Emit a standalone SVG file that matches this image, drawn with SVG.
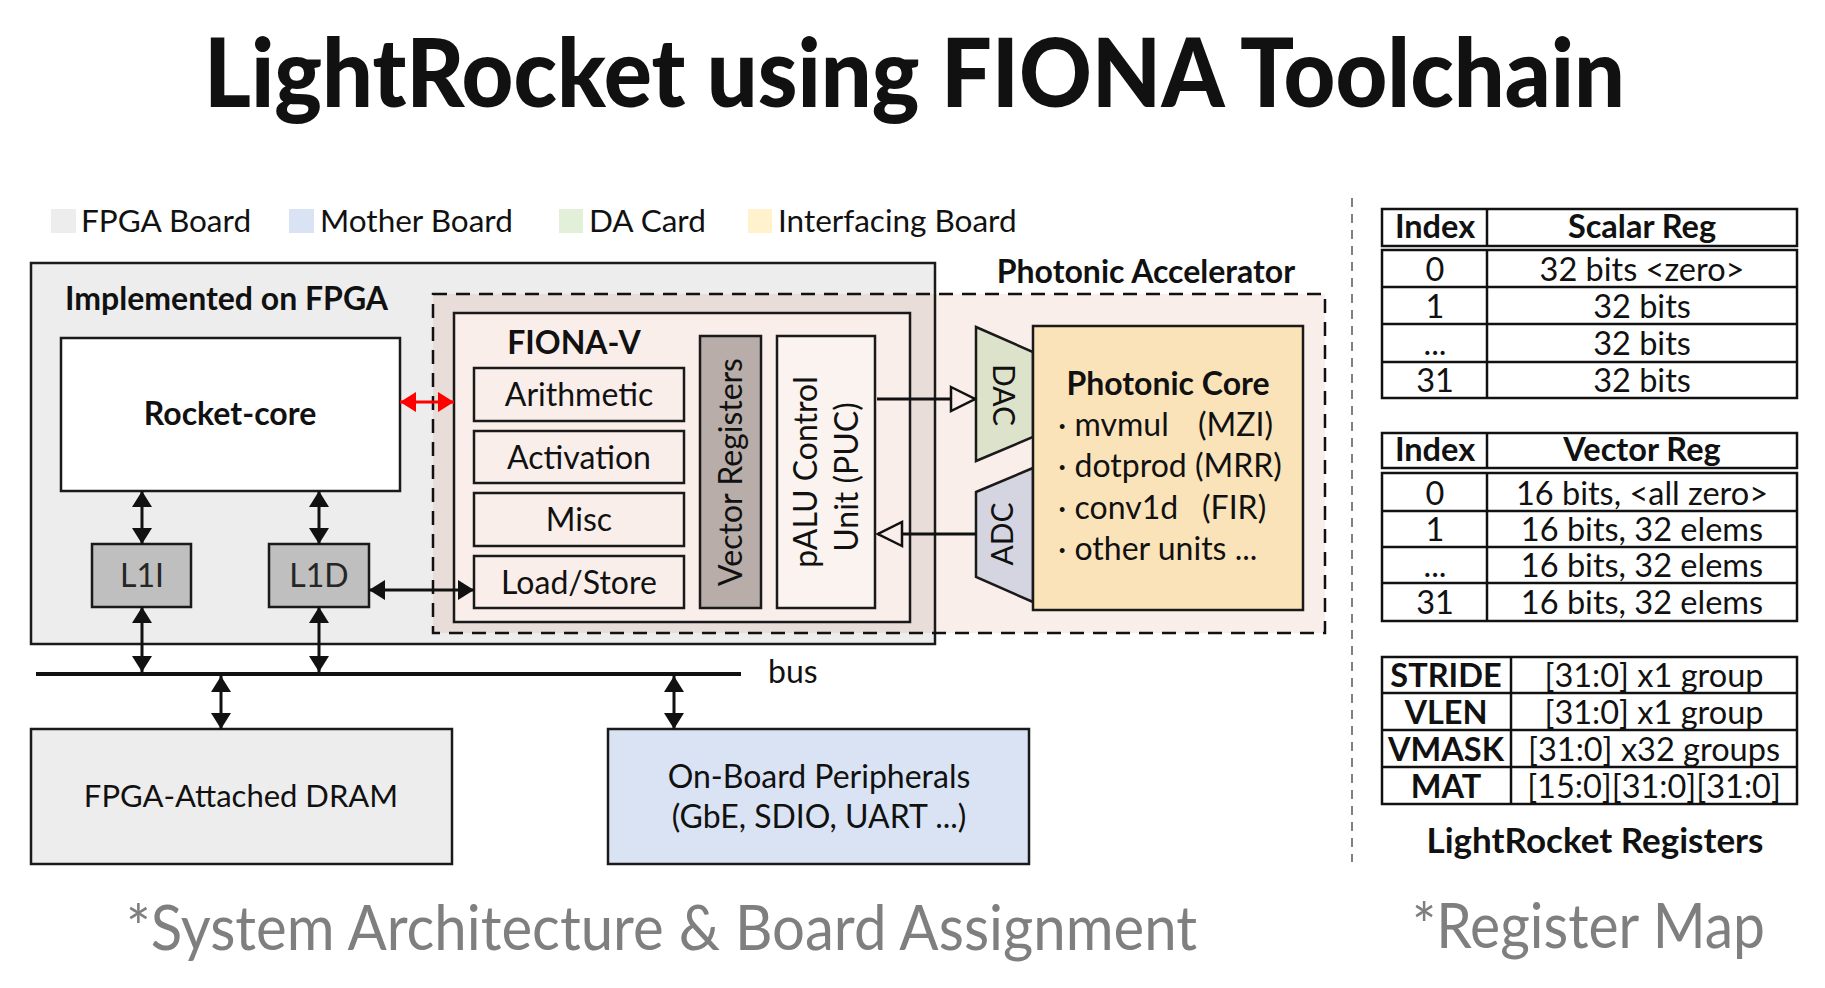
<svg xmlns="http://www.w3.org/2000/svg" width="1825" height="988" viewBox="0 0 1825 988">
<style>
text{font-family:Lato,"Open Sans","Liberation Sans",sans-serif;fill:#111}
.b{font-weight:bold}
.t30{font-size:32px}
.lg{font-size:31.5px}
.tb{font-size:32.5px}
.m{text-anchor:middle}
.box{stroke:#1a1a1a;stroke-width:2.5}
.conn{stroke:#111;stroke-width:3;fill:none}
.cap{font-size:62px;fill:#7f7f7f}
.tbl{fill:#fff;stroke:#111;stroke-width:2.5}
</style>
<defs>
<marker id="ah" viewBox="0 0 16 20" refX="16" refY="10" markerWidth="16" markerHeight="20" markerUnits="userSpaceOnUse" orient="auto-start-reverse">
<path d="M0,0 L16,10 L0,20 Z" fill="#111"/>
</marker>
<marker id="ahr" viewBox="0 0 16 20" refX="16" refY="10" markerWidth="16" markerHeight="20" markerUnits="userSpaceOnUse" orient="auto-start-reverse">
<path d="M0,0 L16,10 L0,20 Z" fill="#ff0000"/>
</marker>
<marker id="ho" viewBox="-2 -2 28 28" refX="24" refY="12" markerWidth="28" markerHeight="28" markerUnits="userSpaceOnUse" orient="auto">
<path d="M0,0 L24,12 L0,24 Z" fill="#f9eeea" stroke="#111" stroke-width="2.5"/>
</marker>
</defs>
<rect width="1825" height="988" fill="#fff"/>

<text id="title" class="b" x="204" y="107" font-size="96" textLength="1421" lengthAdjust="spacingAndGlyphs" style="font-weight:900">LightRocket using FIONA Toolchain</text>

<g id="legend">
<rect x="51" y="209" width="25" height="24" fill="#ededed"/>
<text class="lg" x="81" y="232">FPGA Board</text>
<rect x="289" y="209" width="25" height="24" fill="#dae3f3"/>
<text class="lg" x="320" y="232">Mother Board</text>
<rect x="559" y="209" width="24" height="24" fill="#e2f0d9"/>
<text class="lg" x="589" y="232">DA Card</text>
<rect x="748" y="209" width="24" height="24" fill="#fff2cc"/>
<text class="lg" x="778" y="232">Interfacing Board</text>
</g>

<g id="fpga">
<rect x="31" y="263" width="904" height="381" fill="#ededed"/>
</g>
<g id="photonic-accelerator">
<rect x="433" y="294" width="892" height="339" fill="#f9eeea"/>
<rect x="433" y="294" width="502" height="339" fill="#e8ddd8"/>
</g>
<rect x="31" y="263" width="904" height="381" fill="none" class="box"/>
<rect x="433" y="294" width="892" height="339" fill="none" stroke="#111" stroke-width="2.5" stroke-dasharray="14,9"/>
<text class="b t30" x="65" y="310">Implemented on FPGA</text>
<text class="b t30 m" x="1146" y="283">Photonic Accelerator</text>

<g id="rocket-core">
<rect x="61" y="338" width="339" height="153" fill="#fff" class="box"/>
<text class="b t30 m" x="230" y="425">Rocket-core</text>
</g>
<g id="l1i">
<rect x="92" y="544" width="99" height="63" fill="#bfbfbf" class="box"/>
<text class="t30 m" x="142" y="587" style="fill:#262626">L1I</text>
</g>
<g id="l1d">
<rect x="269" y="544" width="100" height="63" fill="#bfbfbf" class="box"/>
<text class="t30 m" x="319" y="587" style="fill:#262626">L1D</text>
</g>

<g id="fiona-v">
<rect x="454" y="313" width="456" height="309" fill="#f9eeea" class="box"/>
<text class="b t30 m" x="574" y="354">FIONA-V</text>
</g>
<g id="arithmetic">
<rect x="474" y="368" width="210" height="53" fill="#f9eeea" class="box"/>
<text class="t30 m" x="579" y="406">Arithmetic</text>
</g>
<g id="activation">
<rect x="474" y="431" width="210" height="52" fill="#f9eeea" class="box"/>
<text class="t30 m" x="579" y="469">Activation</text>
</g>
<g id="misc">
<rect x="474" y="493" width="210" height="53" fill="#f9eeea" class="box"/>
<text class="t30 m" x="579" y="531">Misc</text>
</g>
<g id="load-store">
<rect x="474" y="556" width="210" height="52" fill="#f9eeea" class="box"/>
<text class="t30 m" x="579" y="594">Load/Store</text>
</g>
<g id="vector-registers">
<rect x="700" y="336" width="61" height="272" fill="#b8ada8" class="box"/>
<text class="t30 m" transform="translate(742,472) rotate(-90)">Vector Registers</text>
</g>
<g id="puc">
<rect x="777" y="336" width="98" height="272" fill="#fbf3ef" class="box"/>
<text class="t30 m" transform="translate(817,472) rotate(-90)">pALU Control</text>
<text class="t30 m" transform="translate(858,477) rotate(-90)">Unit (PUC)</text>
</g>
<g id="dac">
<polygon points="976,327 1033,352 1033,437 976,461" fill="#dde3cb" class="box"/>
<text class="m" font-size="30" transform="translate(993,395) rotate(90)">DAC</text>
</g>
<g id="adc">
<polygon points="976,492 1033,468 1033,602 976,577" fill="#d5d5e2" class="box"/>
<text class="m" font-size="30" transform="translate(1013,534) rotate(-90)">ADC</text>
</g>
<g id="photonic-core">
<rect x="1033" y="326" width="270" height="284" fill="#fbe3b9" class="box"/>
<text class="b t30 m" x="1168" y="395">Photonic Core</text>
<text class="t30" x="1058" y="436">· mvmul<tspan x="1198">(MZI)</tspan></text>
<text class="t30" x="1058" y="477">· dotprod (MRR)</text>
<text class="t30" x="1058" y="519">· conv1d<tspan x="1202">(FIR)</tspan></text>
<text class="t30" x="1058" y="560">· other units ...</text>
</g>

<g id="dram">
<rect x="31" y="729" width="421" height="135" fill="#ededed" class="box"/>
<text class="m" font-size="31" x="241" y="807">FPGA-Attached DRAM</text>
</g>
<g id="peripherals">
<rect x="608" y="729" width="421" height="135" fill="#dae3f3" class="box"/>
<text class="t30 m" x="819" y="788">On-Board Peripherals</text>
<text class="t30 m" x="819" y="828">(GbE, SDIO, UART ...)</text>
</g>

<g id="connectors">
<line x1="36" y1="674" x2="741" y2="674" stroke="#111" stroke-width="4"/>
<line class="conn" x1="142" y1="491" x2="142" y2="544" marker-start="url(#ah)" marker-end="url(#ah)"/>
<line class="conn" x1="319" y1="491" x2="319" y2="544" marker-start="url(#ah)" marker-end="url(#ah)"/>
<line class="conn" x1="142" y1="607" x2="142" y2="672" marker-start="url(#ah)" marker-end="url(#ah)"/>
<line class="conn" x1="319" y1="607" x2="319" y2="672" marker-start="url(#ah)" marker-end="url(#ah)"/>
<line class="conn" x1="221" y1="676" x2="221" y2="729" marker-start="url(#ah)" marker-end="url(#ah)"/>
<line class="conn" x1="674" y1="676" x2="674" y2="729" marker-start="url(#ah)" marker-end="url(#ah)"/>
<line class="conn" x1="369" y1="590" x2="474" y2="590" marker-start="url(#ah)" marker-end="url(#ah)"/>
<line x1="400" y1="402" x2="454" y2="402" stroke="#ff0000" stroke-width="3" marker-start="url(#ahr)" marker-end="url(#ahr)"/>
<line class="conn" x1="877" y1="399" x2="975" y2="399" marker-end="url(#ho)"/>
<line class="conn" x1="976" y1="534" x2="878" y2="534" marker-end="url(#ho)"/>
</g>
<text class="t30" x="768" y="683">bus</text>

<line x1="1352" y1="198" x2="1352" y2="862" stroke="#808080" stroke-width="2" stroke-dasharray="9,7"/>

<g id="scalar-table">
<rect class="tbl" x="1382" y="209" width="415" height="37"/>
<line class="tbl" x1="1487" y1="209" x2="1487" y2="246"/>
<rect class="tbl" x="1382" y="250" width="415" height="148"/>
<line class="tbl" x1="1487" y1="250" x2="1487" y2="398"/>
<line class="tbl" x1="1382" y1="287" x2="1797" y2="287"/>
<line class="tbl" x1="1382" y1="324" x2="1797" y2="324"/>
<line class="tbl" x1="1382" y1="362" x2="1797" y2="362"/>
<text class="b tb m" x="1435" y="238">Index</text>
<text class="b tb m" x="1642" y="238">Scalar Reg</text>
<text class="tb m" x="1435" y="281">0</text>
<text class="tb m" x="1642" y="281">32 bits &lt;zero&gt;</text>
<text class="tb m" x="1435" y="318">1</text>
<text class="tb m" x="1642" y="318">32 bits</text>
<text class="tb m" x="1435" y="355">...</text>
<text class="tb m" x="1642" y="355">32 bits</text>
<text class="tb m" x="1435" y="392">31</text>
<text class="tb m" x="1642" y="392">32 bits</text>
</g>
<g id="vector-table">
<rect class="tbl" x="1382" y="433" width="415" height="35"/>
<line class="tbl" x1="1487" y1="433" x2="1487" y2="468"/>
<rect class="tbl" x="1382" y="473" width="415" height="148"/>
<line class="tbl" x1="1487" y1="473" x2="1487" y2="621"/>
<line class="tbl" x1="1382" y1="511" x2="1797" y2="511"/>
<line class="tbl" x1="1382" y1="547" x2="1797" y2="547"/>
<line class="tbl" x1="1382" y1="583" x2="1797" y2="583"/>
<text class="b tb m" x="1435" y="461">Index</text>
<text class="b tb m" x="1642" y="461">Vector Reg</text>
<text class="tb m" x="1435" y="505">0</text>
<text class="tb m" x="1642" y="505">16 bits, &lt;all zero&gt;</text>
<text class="tb m" x="1435" y="541">1</text>
<text class="tb m" x="1642" y="541">16 bits, 32 elems</text>
<text class="tb m" x="1435" y="577">...</text>
<text class="tb m" x="1642" y="577">16 bits, 32 elems</text>
<text class="tb m" x="1435" y="614">31</text>
<text class="tb m" x="1642" y="614">16 bits, 32 elems</text>
</g>
<g id="csr-table">
<rect class="tbl" x="1382" y="657" width="415" height="147"/>
<line class="tbl" x1="1511" y1="657" x2="1511" y2="804"/>
<line class="tbl" x1="1382" y1="693" x2="1797" y2="693"/>
<line class="tbl" x1="1382" y1="730" x2="1797" y2="730"/>
<line class="tbl" x1="1382" y1="767" x2="1797" y2="767"/>
<text class="b tb m" x="1446" y="687">STRIDE</text>
<text class="tb m" x="1654" y="687">[31:0] x1 group</text>
<text class="b tb m" x="1446" y="724">VLEN</text>
<text class="tb m" x="1654" y="724">[31:0] x1 group</text>
<text class="b tb m" x="1446" y="761">VMASK</text>
<text class="tb m" x="1654" y="761">[31:0] x32 groups</text>
<text class="b tb m" x="1446" y="798">MAT</text>
<text class="tb m" x="1654" y="798">[15:0][31:0][31:0]</text>
<text class="b m" font-size="35" x="1595" y="853">LightRocket Registers</text>
</g>

<text class="cap" x="126" y="950" textLength="1071" lengthAdjust="spacingAndGlyphs">*System Architecture &amp; Board Assignment</text>
<text class="cap" x="1412" y="948" textLength="353" lengthAdjust="spacingAndGlyphs">*Register Map</text>
</svg>
